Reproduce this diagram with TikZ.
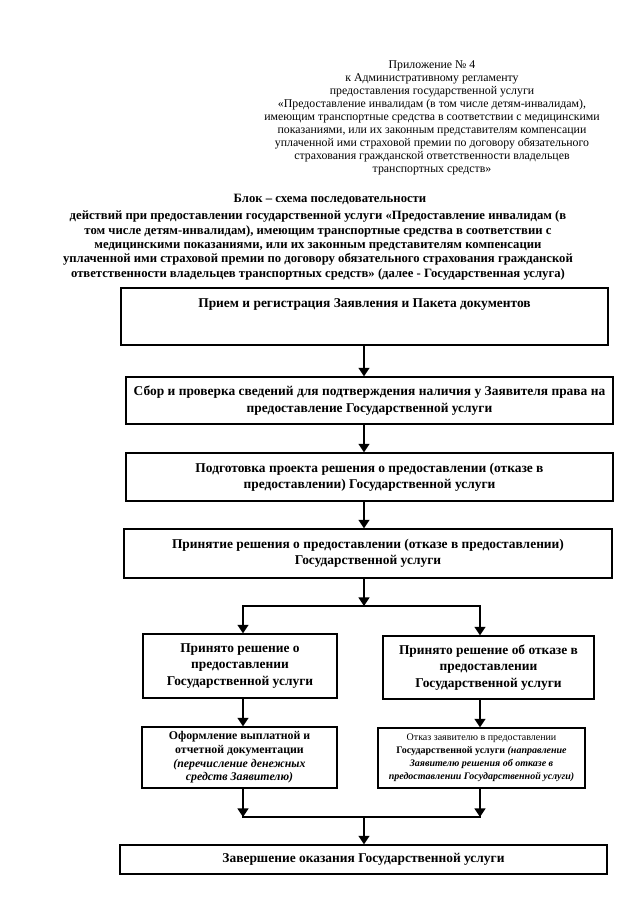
\documentclass[tikz,border=0pt]{standalone}
\usepackage{fontspec}
\setmainfont{Liberation Serif}
\usetikzlibrary{arrows.meta}
\begin{document}
\begin{tikzpicture}[x=0.9301pt,y=-0.9301pt,
  box/.style={draw, line width=1.2pt, align=center, inner sep=1pt,
    font=\bfseries\fontsize{12.5}{15.2}\selectfont},
  wh/.style 2 args={minimum width=#1*0.9301pt, minimum height=#2*0.9301pt},
  arr/.style={line width=2pt, -{Triangle[length=8pt,width=10pt]}},
  ln/.style={line width=2pt, line cap=rect},
  hdr/.style={align=center, inner sep=0pt, font=\fontsize{11}{12.1}\selectfont},
  ttl/.style={align=center, inner sep=0pt, font=\bfseries\fontsize{11.8}{13.3}\selectfont}]
\useasboundingbox (0,0) rectangle (640,905);
\fill[white] (0,0) rectangle (640,905);

\node[hdr] (hdr) at (432,118) {Приложение № 4\\
к Административному регламенту\\
предоставления государственной услуги\\
«Предоставление инвалидам (в том числе детям-инвалидам),\\
имеющим транспортные средства в соответствии с медицинскими\\
показаниями,  или их законным представителям компенсации\\
уплаченной ими страховой премии по договору обязательного\\
страхования гражданской ответственности владельцев\\
транспортных средств»};

\node[ttl] (t1) at (330,199) {Блок – схема последовательности};
\node[ttl] (t2) at (318,245.5) {действий при предоставлении государственной услуги «Предоставление инвалидам (в\\
том числе детям-инвалидам), имеющим транспортные средства в соответствии с\\
медицинскими показаниями,  или их законным представителям компенсации\\
уплаченной ими страховой премии по договору обязательного страхования гражданской\\
ответственности владельцев транспортных средств» (далее - Государственная услуга)};

\node[box, wh={487}{57}] (b1) at (364.5,316.5) {Прием и регистрация Заявления и Пакета документов\\[9pt]\mbox{}};
\node[box, wh={487}{47}] (b2) at (369.5,400.5) {Сбор и проверка сведений для подтверждения наличия у Заявителя права  на\\ предоставление Государственной услуги};
\node[box, wh={487}{48}] (b3) at (369.5,477) {Подготовка проекта решения о предоставлении (отказе в\\ предоставлении) Государственной услуги};
\node[box, wh={488}{49}] (b4) at (368,553.5) {Принятие решения о предоставлении (отказе в предоставлении)\\ Государственной услуги};
\node[box, wh={194}{64}] (b5) at (240,666) {Принято решение о\\ предоставлении\\ Государственной услуги};
\node[box, wh={211}{63}] (b6) at (488.5,667.5) {Принято решение об отказе в\\ предоставлении\\ Государственной услуги};
\node[box, wh={195}{61}, font=\bfseries\fontsize{11}{12.7}\selectfont] (b7) at (239.5,757.5) {Оформление выплатной и\\ отчетной документации\\ \textit{(перечисление денежных}\\ \textit{средств Заявителю)}};
\node[box, wh={207}{60}, font=\bfseries\fontsize{9.3}{12.1}\selectfont] (b8) at (481.5,758) {\mdseries Отказ заявителю в предоставлении\\ Государственной услуги \textit{(направление}\\ \textit{Заявителю решения об отказе в}\\ \textit{предоставлении Государственной услуги)}};
\node[box, wh={487}{29}] (b9) at (363.5,859.5) {Завершение оказания Государственной услуги};

\coordinate (j1) at (364,606);
\coordinate (jl) at (243,606);
\coordinate (jr) at (480,606);
\coordinate (ml) at (243,817);
\coordinate (mr) at (480,817);
\coordinate (mc) at (364,817);

\draw[arr] (b1.south -| j1) -- (b2.north -| j1);
\draw[arr] (b2.south -| j1) -- (b3.north -| j1);
\draw[arr] (b3.south -| j1) -- (b4.north -| j1);
\draw[arr] (b4.south -| j1) -- (j1);
\draw[ln] (jl) -- (jr);
\draw[arr] (jl) -- (jl |- b5.north);
\draw[arr] (jr) -- (jr |- b6.north);
\draw[arr] (b5.south -| jl) -- (b7.north -| jl);
\draw[arr] (b6.south -| jr) -- (b8.north -| jr);
\draw[arr] (b7.south -| ml) -- (ml);
\draw[arr] (b8.south -| mr) -- (mr);
\draw[ln] (ml) -- (mr);
\draw[arr] (mc) -- (mc |- b9.north);
\end{tikzpicture}
\end{document}
